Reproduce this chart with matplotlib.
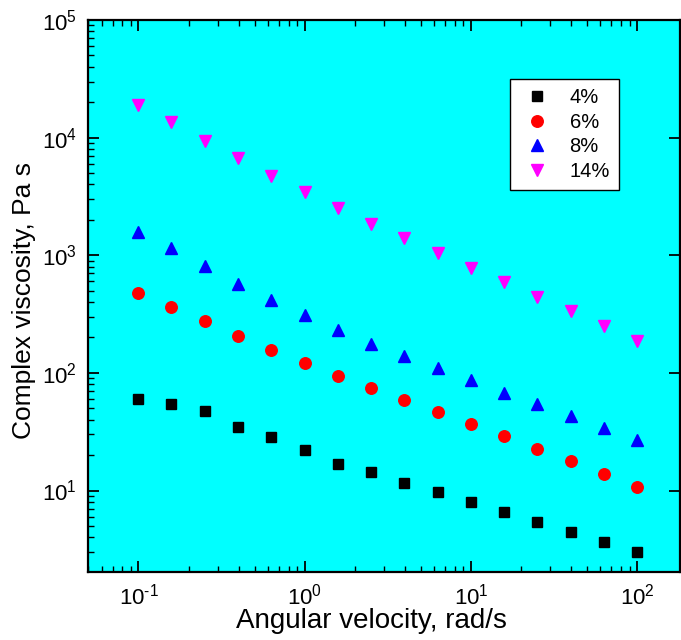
import matplotlib
matplotlib.use("Agg")
import matplotlib.pyplot as plt
from matplotlib.ticker import LogLocator, FuncFormatter, NullFormatter
import math

plt.rcParams['font.family'] = ['Liberation Sans', 'DejaVu Sans']
plt.rcParams['mathtext.fontset'] = 'custom'
plt.rcParams['mathtext.rm'] = 'Liberation Sans'
plt.rcParams['mathtext.it'] = 'Liberation Sans:italic'
plt.rcParams['mathtext.bf'] = 'Liberation Sans:bold'

omega = [0.1, 0.158, 0.251, 0.398, 0.631, 1.0, 1.58, 2.51, 3.98, 6.31,
         10.0, 15.8, 25.1, 39.8, 63.1, 100.0]
eta_4 = [60.3, 54.6, 47.6, 34.8, 28.7, 22.2, 16.9, 14.5, 11.7, 9.8,
         8.0, 6.6, 5.4, 4.47, 3.67, 3.02]
eta_6 = [480, 365, 277, 207, 157, 122, 94.5, 74.6, 59, 46.7,
         37, 29, 22.7, 17.9, 13.9, 10.8]
eta_8 = [1580, 1157, 813, 571, 418, 312, 232, 177, 140, 110,
         87, 68, 54, 43, 34, 27]
eta_14 = [19000, 13600, 9380, 6730, 4730, 3460, 2530, 1850, 1406, 1050,
          781, 594, 443, 337, 251, 188]
labels = ['4%', '6%', '8%', '14%']

W, H = 681, 640
fig = plt.figure(figsize=(W / 100, H / 100), dpi=100)
left, right, top, bottom = 88, 680, 20, 572
ax = fig.add_axes([left / W, (H - bottom) / H, (right - left) / W, (bottom - top) / H])
ax.set_facecolor('#00FFFF')

ax.plot(omega, eta_4, 's', color='black', markersize=7.3, linestyle='none', label=labels[0])
ax.plot(omega, eta_6, 'o', color='red', markersize=8.3, linestyle='none', label=labels[1])
ax.plot(omega, eta_8, '^', color='blue', markersize=9, linestyle='none', label=labels[2])
ax.plot(omega, eta_14, 'v', color='magenta', markersize=9, linestyle='none', label=labels[3])

ax.set_xscale('log')
ax.set_yscale('log')
ax.set_xlim(0.0497, 181)
ax.set_ylim(2.03, 1e5)

for sp in ax.spines.values():
    sp.set_linewidth(1.6)
    sp.set_color('black')


def pow_fmt(v, pos):
    e = int(round(math.log10(v)))
    s = str(e).replace('-', '\u2010')
    return r'$10^{' + s + '}$'


ax.xaxis.set_major_locator(LogLocator(base=10, numticks=10))
ax.xaxis.set_minor_locator(LogLocator(base=10, subs=range(2, 10), numticks=10))
ax.yaxis.set_major_locator(LogLocator(base=10, numticks=10))
ax.yaxis.set_minor_locator(LogLocator(base=10, subs=range(2, 10), numticks=10))
ax.xaxis.set_major_formatter(FuncFormatter(pow_fmt))
ax.yaxis.set_major_formatter(FuncFormatter(pow_fmt))
ax.xaxis.set_minor_formatter(NullFormatter())
ax.yaxis.set_minor_formatter(NullFormatter())

ax.tick_params(which='major', direction='in', length=8, width=1.3,
               top=True, right=True, labelsize=16, pad=8)
ax.tick_params(which='minor', direction='in', length=4.5, width=1.0,
               top=True, right=False)

ax.set_xlabel('Angular velocity, rad/s', fontsize=20, labelpad=-1)
ax.set_ylabel('Complex viscosity, Pa s', fontsize=19, labelpad=4)
ax.xaxis.label.set_x((371 - left) / (right - left))
ax.yaxis.label.set_y((bottom - 300.5) / (bottom - top))

leg = ax.legend(loc='upper right',
                bbox_to_anchor=((619 - left) / (right - left), 1 - (79 - top) / (bottom - top)),
                fontsize=14.5, frameon=True, fancybox=False, edgecolor='black',
                framealpha=1, borderpad=0.45, handletextpad=0.7, labelspacing=0.28,
                handlelength=1.8, borderaxespad=0)
leg.get_frame().set_linewidth(1.0)

fig.savefig('out.png', dpi=100)
